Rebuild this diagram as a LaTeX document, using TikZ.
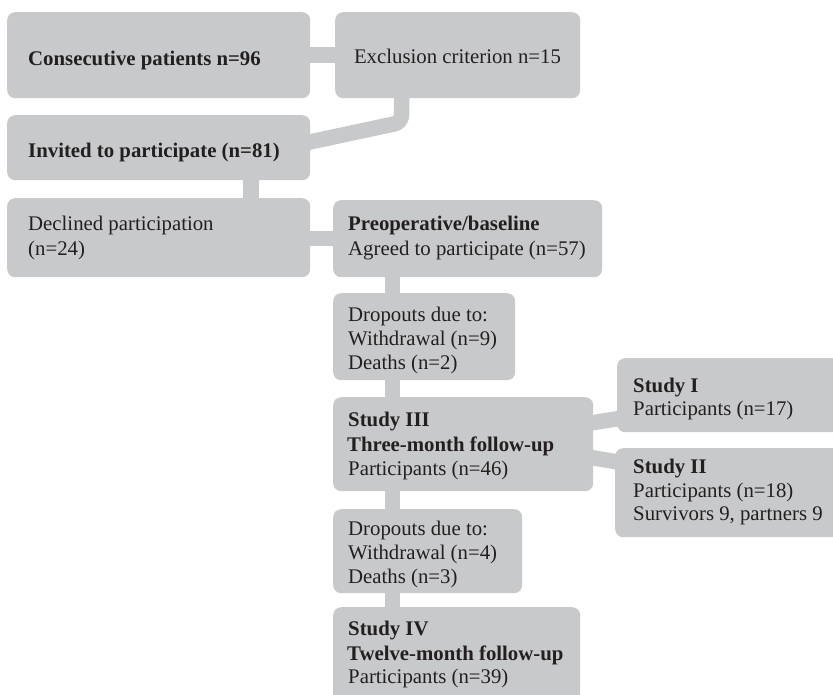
\documentclass[tikz,border=0pt]{standalone}
\usepackage{fontspec}
\setmainfont{Liberation Serif}
\usetikzlibrary{backgrounds}
\definecolor{boxgray}{RGB}{200,201,203}
\definecolor{ink}{RGB}{35,31,32}
\tikzset{
  box/.style={fill=boxgray, draw=none, rounded corners=8pt, inner sep=0pt, anchor=north west},
  conn/.style={draw=boxgray, line width=15.5pt, line join=round},
  txt/.style={anchor=base west, inner sep=0pt, text=ink, font=\fontsize{20.8pt}{24pt}\selectfont},
}
\begin{document}
\begin{tikzpicture}[x=1pt,y=-1pt]
\useasboundingbox (0,0) rectangle (833,694);
\clip (0,0) rectangle (833,694);
% boxes
\node[box, minimum width=303pt, minimum height=86pt] (consec) at (7,12) {};
\node[box, minimum width=245pt, minimum height=86pt] (excl) at (335,12) {};
\node[box, minimum width=303pt, minimum height=65pt] (invited) at (7,115) {};
\node[box, minimum width=303pt, minimum height=79pt] (declined) at (7,198) {};
\node[box, minimum width=269pt, minimum height=77pt] (preop) at (333,200) {};
\node[box, minimum width=182pt, minimum height=87pt] (drop1) at (333,293) {};
\node[box, minimum width=260pt, minimum height=94pt] (study3) at (333,397) {};
\node[box, minimum width=189pt, minimum height=84pt] (drop2) at (333,509) {};
\node[box, minimum width=247pt, minimum height=103pt] (study4) at (333,607) {};
\node[box, minimum width=228pt, minimum height=74pt] (study1) at (617,358) {};
\node[box, minimum width=230pt, minimum height=89pt] (study2) at (615,448) {};
% connectors
\begin{scope}[on background layer]
\draw[conn] ([xshift=-4pt]consec.east) -- ([xshift=4pt]excl.west);
\draw[conn, rounded corners=7pt] ([xshift=66.5pt,yshift=4pt]excl.south west) -- ([xshift=66.5pt,yshift=-24pt]excl.south west) -- ([xshift=-4pt,yshift=5pt]invited.east);
\draw[conn] ([xshift=244pt,yshift=4pt]invited.south west) -- ([xshift=244pt,yshift=-4pt]declined.north west);
\draw[conn] ([xshift=-4pt,yshift=-1pt]declined.east) -- ([xshift=4pt]preop.west);
\draw[conn] ([xshift=59.5pt,yshift=4pt]preop.south west) -- ([xshift=59.5pt,yshift=-4pt]drop1.north west);
\draw[conn] ([xshift=59.5pt,yshift=4pt]drop1.south west) -- ([xshift=59.5pt,yshift=-4pt]study3.north west);
\draw[conn] ([xshift=59.5pt,yshift=4pt]study3.south west) -- ([xshift=59.5pt,yshift=-4pt]drop2.north west);
\draw[conn] ([xshift=59.5pt,yshift=4pt]drop2.south west) -- ([xshift=59.5pt,yshift=-4pt]study4.north west);
\draw[conn] ([xshift=-4pt,yshift=21pt]study3.east) -- ([xshift=4pt,yshift=-23pt]study1.west);
\draw[conn] ([xshift=-4pt,yshift=-13pt]study3.east) -- ([xshift=4pt,yshift=30.5pt]study2.west);
\end{scope}
% texts
\node[txt] (t1) at (28,65) {\textbf{Consecutive patients n=96}};
\node[txt, anchor=base] (t2) at (457.5,63) {Exclusion criterion n=15};
\node[txt] (t3) at (28,157) {\textbf{Invited to participate (n=81)}};
\node[txt] (t4a) at (28,230) {Declined participation};
\node[txt] (t4b) at (28,255) {(n=24)};
\node[txt] (t5a) at (348,230) {\textbf{Preoperative/baseline}};
\node[txt] (t5b) at (348,255) {Agreed to participate (n=57)};
\node[txt] (t6a) at (348,321) {Dropouts due to:};
\node[txt] (t6b) at (348,345) {Withdrawal (n=9)};
\node[txt] (t6c) at (348,369) {Deaths (n=2)};
\node[txt] (t7a) at (348,426) {\textbf{Study III}};
\node[txt] (t7b) at (347,451) {\textbf{Three-month follow-up}};
\node[txt] (t7c) at (348,475) {Participants (n=46)};
\node[txt] (t8a) at (348,535) {Dropouts due to:};
\node[txt] (t8b) at (348,559) {Withdrawal (n=4)};
\node[txt] (t8c) at (348,583) {Deaths (n=3)};
\node[txt] (t9a) at (348,635) {\textbf{Study IV}};
\node[txt] (t9b) at (347,660) {\textbf{Twelve-month follow-up}};
\node[txt] (t9c) at (348,683) {Participants (n=39)};
\node[txt] (t10a) at (633,392) {\textbf{Study I}};
\node[txt] (t10b) at (633,415) {Participants (n=17)};
\node[txt] (t11a) at (633,473) {\textbf{Study II}};
\node[txt] (t11b) at (633,497) {Participants (n=18)};
\node[txt] (t11c) at (633,520) {Survivors 9, partners 9};
\end{tikzpicture}
\end{document}
